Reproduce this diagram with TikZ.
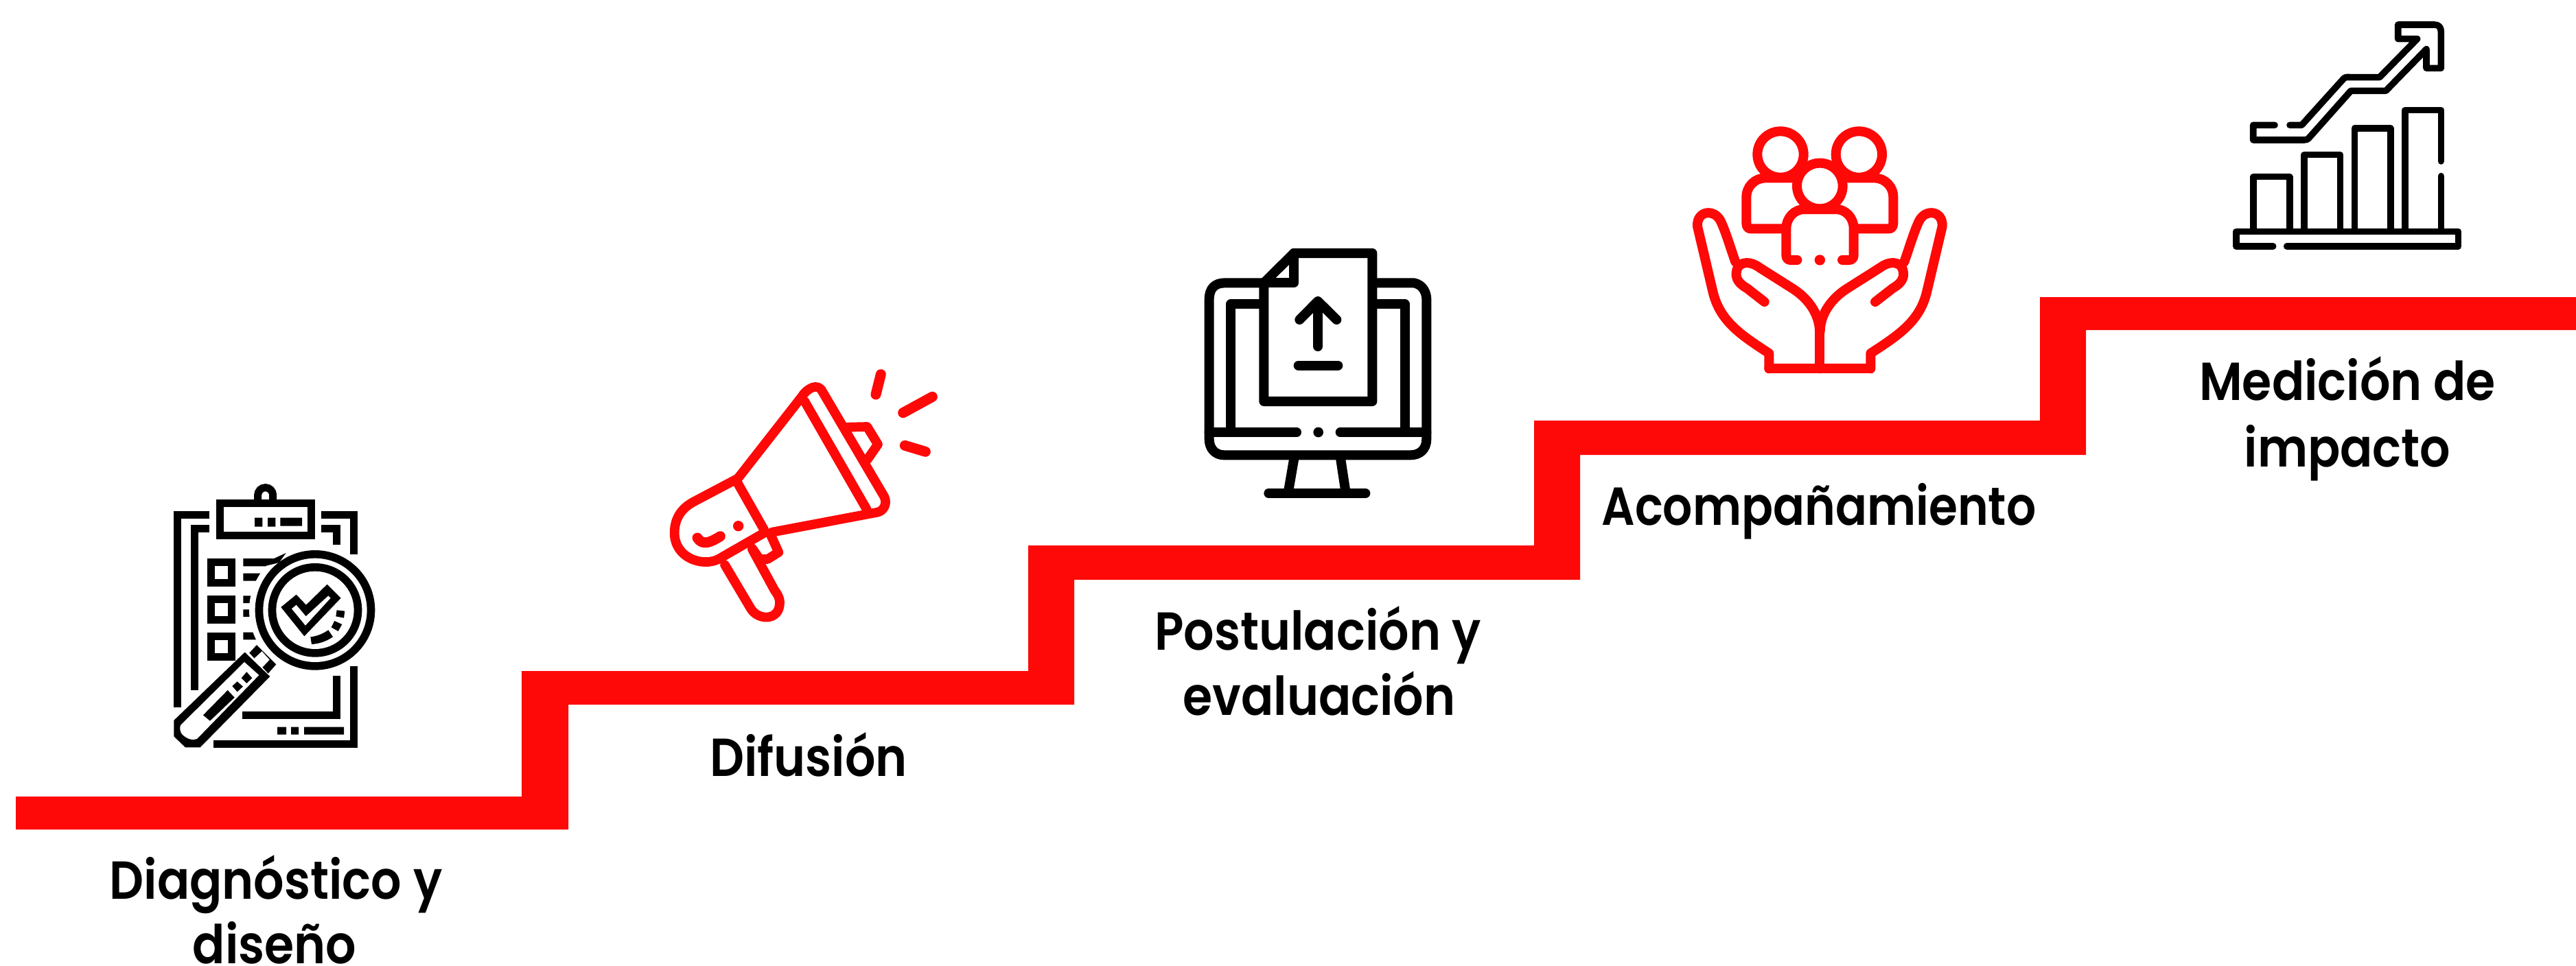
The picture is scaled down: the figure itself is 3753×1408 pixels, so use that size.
\documentclass[tikz,border=0pt]{standalone}
\usepackage{fontspec}
\setmainfont{Poppins}[UprightFont=* SemiBold,FakeStretch=0.895]
\newfontfamily\narrowlbl{Poppins}[UprightFont=* SemiBold,FakeStretch=0.87]
\definecolor{stairred}{RGB}{255,8,8}
\tikzset{
  lbl/.style={anchor=base,align=center,inner sep=0pt,text=black,font=\fontsize{78}{95}\selectfont},
  iconscope/.style={x=0.33333pt,y=-0.33333pt},
  kline/.style={draw=black,line width=11pt,miter limit=10},
  kfill/.style={fill=black,draw=none},
  wfill/.style={fill=white,draw=none},
  rline/.style={draw=stairred,line width=13.7pt,line join=round,line cap=round},
  mline/.style={draw=black,line width=14pt,line join=round,line cap=round},
  gline/.style={draw=stairred,line width=14pt,line join=round,line cap=round},
  tline/.style={draw=black,line width=9.6pt,line join=round,line cap=round}
}
\begin{document}
\begin{tikzpicture}[x=1pt,y=-1pt]
\useasboundingbox (0,0) rectangle (3753,1408);
\fill[white] (0,0) rectangle (3753,1408);
% staircase
\fill[stairred] (23,1161) -- (760,1161) -- (760,978) -- (1498,978) -- (1498,795) -- (2235,795) -- (2235,613) -- (2972,613) -- (2972,433) -- (3753,433) -- (3753,481) -- (3039,481) -- (3039,663) -- (2302,663) -- (2302,845) -- (1565,845) -- (1565,1027) -- (828,1027) -- (828,1209) -- (23,1209) -- cycle;
% labels
\node[lbl] (l1a) at (402,1310) {Diagnóstico y};
\node[lbl] (l1b) at (400,1404) {diseño};
\node[lbl] (l2) at (1178,1131) {Difusión};
\node[lbl] (l3a) at (1920,947) {Postulación y};
\node[lbl] (l3b) at (1922,1042) {evaluación};
\node[lbl] (l4) at (2650,765) {\narrowlbl Acompañamiento};
\node[lbl] (l5a) at (3420,583) {Medición de};
\node[lbl] (l5b) at (3420,680) {impacto};
% icon 1: clipboard
\begin{scope}[shift={(200,680)},iconscope]
\draw[kline] (527,150) -- (527,125) arc[start angle=180,end angle=360,radius=33] -- (593,150);
\draw[kline] (361,160) rectangle (761,300);
\fill[kfill] (513,224) rectangle (547,263) (570,224) rectangle (604,263) (625,224) rectangle (720,260);
\draw[kline] (316,210) -- (174,210) -- (174,1053);
\draw[kline] (316,272) -- (250,272) -- (250,977);
\draw[kline] (805,210) -- (947,210) -- (947,384);
\draw[kline] (805,272) -- (870,272) -- (870,341);
\draw[kline] (333,1213) -- (947,1213) -- (947,873);
\draw[kline] (459,1087) -- (870,1087) -- (870,916);
\fill[kfill] (612,1139) rectangle (651,1172) (672,1139) rectangle (705,1172) (729,1139) rectangle (903,1172);
\draw[kline] (321,418) rectangle (411,508);
\draw[kline] (321,580) rectangle (411,670);
\draw[kline] (321,742) rectangle (411,832);
\fill[kfill] (463,402) rectangle (640,436) (463,467) rectangle (600,500) (463,565) rectangle (600,597) (463,625) rectangle (600,657) (463,725) rectangle (600,757);
\fill[wfill] (777,628) circle[radius=288];
\fill[kfill] (555,436) -- (598,402) -- (650,378) -- (620,420) -- cycle;
\fill[kfill] (490,815) -- (522,780) -- (607,865) -- (572,905) -- cycle;
\fill[wfill] (510,840) -- (545,808) -- (578,845) -- (545,880) -- cycle;
\fill[kfill] (777,628) circle[radius=262];
\fill[wfill] (777,628) circle[radius=227];
\fill[kfill] (760,628) ++(17,0) circle[radius=205];
\fill[wfill] (777,628) circle[radius=170];
\fill[kfill] (628,615) -- (695,560) -- (738,605) -- (830,515) -- (890,575) -- (730,742) -- cycle;
\fill[wfill] (675,622) -- (695,605) -- (737,655) -- (835,565) -- (845,575) -- (735,695) -- cycle;
\fill[kfill] (872,628) -- (907,632) -- (903,662) -- (868,655) -- cycle;
\fill[kfill] (862,675) -- (895,690) -- (878,720) -- (848,703) -- cycle;
\fill[kfill] (757,745) .. controls (785,742) and (810,732) .. (835,715) -- (855,745) .. controls (825,765) and (795,775) .. (762,777) -- cycle;
% handle
\fill[kfill] (470,812) -- (580,918) -- (275,1228) -- (210,1228) -- (160,1180) -- (160,1110) -- cycle;
\fill[wfill] (468,855) -- (532,912) -- (262,1190) .. controls (240,1200) and (215,1190) .. (195,1170) .. controls (185,1155) and (185,1140) .. (190,1130) -- cycle;
\fill[kfill] (288,1087) -- (395,978) -- (425,1010) -- (318,1112) -- cycle;
\fill[kfill] (415,960) -- (437,940) -- (462,962) -- (437,985) -- cycle;
\fill[kfill] (455,925) -- (478,898) -- (502,925) -- (478,948) -- cycle;
\end{scope}
% icon 2: megaphone
\begin{scope}[shift={(940,510)},iconscope]
\draw[rline] (405,562) -- (684,205) .. controls (705,170) and (755,140) .. (775,183) -- (1045,642) .. controls (1060,675) and (1040,705) .. (1015,710) -- (555,797);
\draw[rline] (697,225) -- (968,697);
\draw[rline] (405,584) -- (520,787);
\draw[rline] (520,800) -- (320,915) .. controls (250,950) and (128,910) .. (128,800) .. controls (128,730) and (165,690) .. (210,665) -- (405,562);
\fill[stairred] (407,770) circle[radius=23];
\draw[stairred,line width=15pt,line cap=round,line join=round] (228,822) .. controls (250,855) and (280,845) .. (328,815);
\draw[rline] (348,940) -- (462,1132) .. controls (495,1185) and (588,1185) .. (588,1105) .. controls (588,1080) and (575,1065) .. (565,1050) -- (468,872);
\draw[rline] (468,868) -- (500,915) -- (535,915) -- (583,885) -- (550,812);
\draw[rline] (885,338) -- (970,336) -- (1017,413) -- (972,478);
\draw[stairred,line width=15pt,line cap=round] (1030,107) -- (1008,195);
\draw[stairred,line width=15pt,line cap=round] (1127,275) -- (1255,205);
\draw[stairred,line width=15pt,line cap=round] (1135,418) -- (1225,445);
\end{scope}
% icon 3: monitor
\begin{scope}[shift={(1720,340)},iconscope]
\draw[mline] (125,870) -- (125,290) .. controls (125,240) and (150,217) .. (195,217) -- (1020,217) .. controls (1060,225) and (1075,260) .. (1075,290) -- (1075,900) .. controls (1075,945) and (1045,970) .. (1005,970) -- (190,970) .. controls (150,970) and (125,940) .. (125,900) -- cycle;
\draw[mline] (220,870) -- (220,310) -- (980,310) -- (980,870);
\draw[mline] (125,870) -- (507,870);
\draw[mline] (698,870) -- (1075,870);
\fill[black] (602,870) circle[radius=22];
\draw[mline] (495,990) -- (470,1135);
\draw[mline] (700,990) -- (722,1135);
\draw[mline] (385,1137) -- (808,1137);
\draw[mline,fill=white] (364,735) -- (838,735) -- (838,87) -- (495,87) -- (364,217) -- cycle;
\draw[mline] (495,87) -- (495,217) -- (364,217);
\draw[mline] (600,300) -- (600,495);
\draw[mline] (520,378) -- (600,297) -- (682,378);
\draw[mline] (515,578) -- (688,578);
\end{scope}
% icon 4: hands and people
\begin{scope}[shift={(2430,160)},iconscope]
\draw[gline] (492,195) circle[radius=101];
\draw[gline] (835,195) circle[radius=101];
\draw[gline] (540,298) -- (430,298) .. controls (375,298) and (343,340) .. (343,380) -- (343,495) .. controls (343,510) and (350,520) .. (360,520) -- (495,520);
\draw[gline] (788,298) -- (898,298) .. controls (953,298) and (985,340) .. (985,380) -- (985,495) .. controls (985,510) and (978,520) .. (968,520) -- (833,520);
\draw[gline,fill=white] (664,333) circle[radius=100];
\draw[gline] (565,657) -- (535,657) .. controls (525,657) and (517,650) .. (517,635) -- (517,520) .. controls (517,470) and (555,435) .. (595,435) -- (735,435) .. controls (775,435) and (812,470) .. (812,520) -- (812,635) .. controls (812,650) and (804,657) .. (792,657) -- (762,657);
\fill[stairred] (664,657) circle[radius=23];
\draw[gline] (442,1132) -- (885,1132);
\draw[gline] (663,1132) -- (663,970);
\draw[gline] (442,1132) -- (442,1065) .. controls (320,985) and (225,925) .. (195,790) -- (129,510) .. controls (125,440) and (205,430) .. (232,490) .. controls (255,540) and (275,610) .. (295,665);
\draw[gline] (422,840) -- (345,780) .. controls (300,755) and (290,725) .. (305,690) .. controls (320,665) and (360,660) .. (400,690) -- (550,785) .. controls (625,835) and (663,905) .. (663,970);
\draw[gline] (886,1132) -- (886,1065) .. controls (1008,985) and (1103,925) .. (1133,790) -- (1199,510) .. controls (1203,440) and (1123,430) .. (1096,490) .. controls (1073,540) and (1053,610) .. (1033,665);
\draw[gline] (906,840) -- (983,780) .. controls (1028,755) and (1038,725) .. (1023,690) .. controls (1008,665) and (968,660) .. (928,690) -- (778,785) .. controls (703,835) and (665,905) .. (665,970);
\end{scope}
% icon 5: chart
\begin{scope}[shift={(3230,10)},iconscope]
\draw[tline] (305,1047) -- (1054,1047) -- (1054,982) -- (84,982) -- (84,1047) -- (245,1047);
\draw[tline] (159,982) -- (159,743) -- (317,743) -- (317,982);
\draw[tline] (381,982) -- (381,647) -- (538,647) -- (538,982);
\draw[tline] (601,982) -- (601,531) -- (758,531) -- (758,982);
\draw[tline] (822,982) -- (822,452) -- (979,452) -- (979,675);
\draw[tline] (979,740) -- (979,982);
\draw[tline] (318,517) -- (370,517) -- (555,312) .. controls (565,305) and (575,308) .. (590,308) -- (710,308) -- (875,140) -- (791,140) -- (791,78) -- (950,78) .. controls (970,78) and (979,90) .. (979,110) -- (979,268) -- (915,268) -- (915,185) -- (738,367) -- (585,367) -- (400,575) .. controls (395,580) and (390,582) .. (380,582) -- (158,582) -- (158,517) -- (252,517);
\end{scope}
\end{tikzpicture}
\end{document}
